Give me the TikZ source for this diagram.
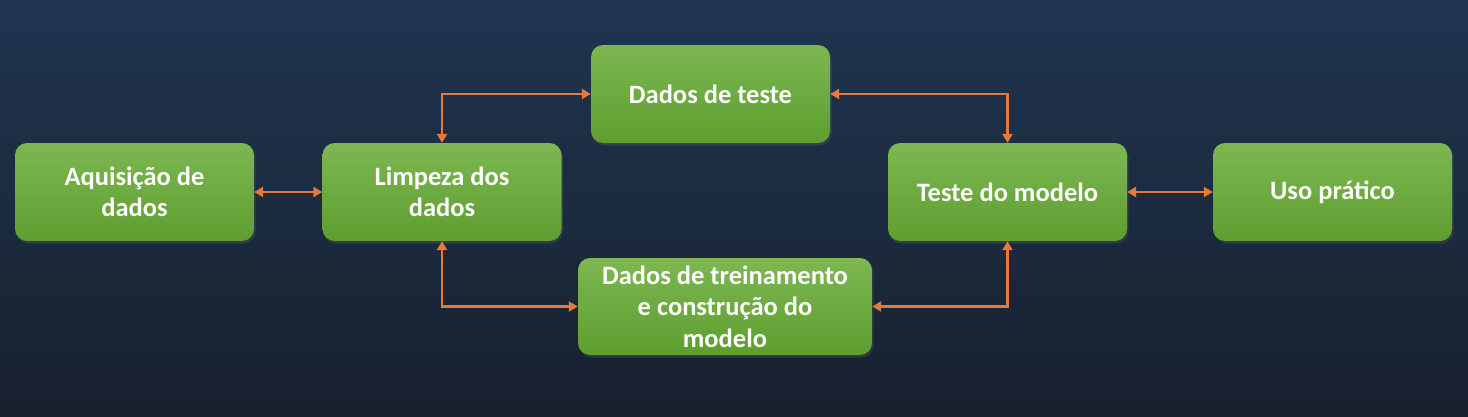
\documentclass[tikz,border=0pt]{standalone}
\usepackage{fontspec}
\setmainfont{Carlito}
\usetikzlibrary{arrows.meta,shadows}
\definecolor{bgtop}{HTML}{1F3550}
\definecolor{bgbot}{HTML}{18212E}
\definecolor{gtop}{HTML}{7DB752}
\definecolor{gbot}{HTML}{5E9E2F}
\definecolor{arrowc}{HTML}{E4793A}
\begin{document}
\begin{tikzpicture}[x=1pt,y=-1pt,
  box/.style={rounded corners=12pt, top color=gtop, bottom color=gbot, draw=none,
    minimum width=239pt, minimum height=98pt, align=center, text=white, inner sep=0pt,
    font=\fontsize{26.5}{31.5}\selectfont\bfseries,
    drop shadow={opacity=0.2, shadow xshift=1.5pt, shadow yshift=-2.5pt}},
  link/.style={draw=arrowc, line width=2.6pt,
    {Triangle[length=9pt,width=10pt]}-{Triangle[length=9pt,width=10pt]}}]
\fill[top color=bgtop, bottom color=bgbot] (0,0) rectangle (1468,416);
\useasboundingbox (0,0) rectangle (1468,416);
\node[box] (acq) at (134.5,192) {Aquisição de\\dados};
\node[box] (limp) at (442,192) {Limpeza dos\\dados};
\node[box] (teste) at (710.5,94) {Dados de teste};
\node[box, minimum width=294pt, minimum height=97pt] (trein) at (725,306.5) {Dados de treinamento\\e construção do\\modelo};
\node[box] (tmod) at (1007.5,192) {Teste do modelo};
\node[box] (uso) at (1332.5,192) {Uso prático};
\draw[link] (acq.east) -- (limp.west);
\draw[link] (limp.north) |- (teste.west);
\draw[link] (limp.south) |- (trein.west);
\draw[link] (teste.east) -| (tmod.north);
\draw[link] (trein.east) -| (tmod.south);
\draw[link] (tmod.east) -- (uso.west);
\end{tikzpicture}
\end{document}
